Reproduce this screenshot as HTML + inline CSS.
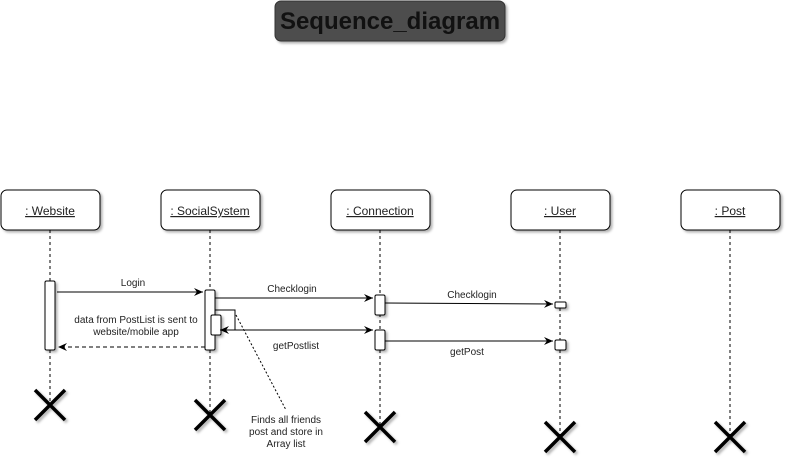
<!DOCTYPE html>
<html><head><style>body{margin:0;background:#fff;}</style></head><body>
<svg width="792" height="467" xmlns="http://www.w3.org/2000/svg" font-family="Liberation Sans, sans-serif">
<defs>
<filter id="sh" x="-20%" y="-20%" width="150%" height="150%"><feDropShadow dx="2" dy="2" stdDeviation="1.2" flood-color="#000" flood-opacity="0.3"/></filter>
<marker id="ar" markerWidth="10" markerHeight="8" refX="9" refY="4" orient="auto" markerUnits="userSpaceOnUse"><path d="M0,0 L9,4 L0,8 L3,4 z" fill="#000"/></marker>
<marker id="al" markerWidth="10" markerHeight="8" refX="1" refY="4" orient="auto" markerUnits="userSpaceOnUse"><path d="M10,0 L1,4 L10,8 L7,4 z" fill="#000"/></marker>
</defs>
<rect x="275" y="1" width="230" height="40" rx="6" fill="#4d4d4d" stroke="#333" filter="url(#sh)"/>
<text x="390" y="29" text-anchor="middle" font-size="24" font-weight="bold" fill="#111">Sequence_diagram</text>
<g stroke="#000" stroke-dasharray="3,3" stroke-width="1">
<line x1="50" y1="230" x2="50" y2="405"/><line x1="210" y1="230" x2="210" y2="415"/><line x1="380" y1="230" x2="380" y2="427"/><line x1="560" y1="230" x2="560" y2="437"/><line x1="730" y1="230" x2="730" y2="437"/>
</g>
<g fill="#fff" stroke="#000" filter="url(#sh)">
<rect x="1" y="190" width="99" height="40" rx="6"/><rect x="161" y="190" width="99" height="40" rx="6"/><rect x="331" y="190" width="99" height="40" rx="6"/><rect x="511" y="190" width="99" height="40" rx="6"/><rect x="681" y="190" width="99" height="40" rx="6"/>
</g>
<g font-size="12" fill="#222" text-anchor="middle" text-decoration="underline">
<text x="50" y="215">: Website</text><text x="210" y="215">: SocialSystem</text><text x="380" y="215">: Connection</text><text x="560" y="215">: User</text><text x="730" y="215">: Post</text>
</g>
<g fill="#fff" stroke="#000" filter="url(#sh)">
<rect x="45" y="281" width="10" height="69" rx="1.5"/><rect x="205" y="290" width="10" height="60" rx="1.5"/><rect x="211" y="315" width="10" height="20" rx="1.5"/>
<rect x="375" y="295" width="10" height="20" rx="1.5"/><rect x="375" y="330" width="10" height="20" rx="1.5"/>
<rect x="555" y="302" width="11" height="6" rx="1"/><rect x="555" y="340" width="11" height="10" rx="1.5"/>
</g>
<g stroke="#000" fill="none">
<line x1="57" y1="292" x2="203" y2="292" marker-end="url(#ar)"/>
<line x1="215" y1="298" x2="373" y2="298" marker-end="url(#ar)"/>
<line x1="385" y1="303" x2="553" y2="304" marker-end="url(#ar)"/>
<polyline points="215,310 235,310 235,330"/>
<line x1="220" y1="330" x2="373" y2="330" marker-start="url(#al)" marker-end="url(#ar)"/>
<line x1="385" y1="341" x2="553" y2="341" marker-end="url(#ar)"/>
<line x1="205" y1="347" x2="58" y2="347" stroke-dasharray="4,3" marker-end="url(#ar)"/>
<line x1="236" y1="315" x2="286" y2="410" stroke-dasharray="2,2"/>
</g>
<g font-size="10" fill="#222" text-anchor="middle">
<rect x="119" y="276" width="29" height="12" fill="#fff"/><text x="133" y="286">Login</text>
<text x="292" y="292">Checklogin</text><text x="472" y="298">Checklogin</text>
<text x="296" y="349">getPostlist</text><text x="467" y="355">getPost</text>
<text x="136" y="323">data from PostList is sent to</text><text x="136" y="335">website/mobile app</text>
<text x="286" y="423">Finds all friends</text><text x="286" y="435">post and store in</text><text x="286" y="447">Array list</text>
</g>
<g stroke="#000" stroke-width="3.5" filter="url(#sh)">
<path d="M35,390 L65,420 M65,390 L35,420"/><path d="M195,400 L225,430 M225,400 L195,430"/><path d="M365,412 L395,442 M395,412 L365,442"/><path d="M545,422 L575,452 M575,422 L545,452"/><path d="M715,422 L745,452 M745,422 L715,452"/>
</g>
</svg>
</body></html>
